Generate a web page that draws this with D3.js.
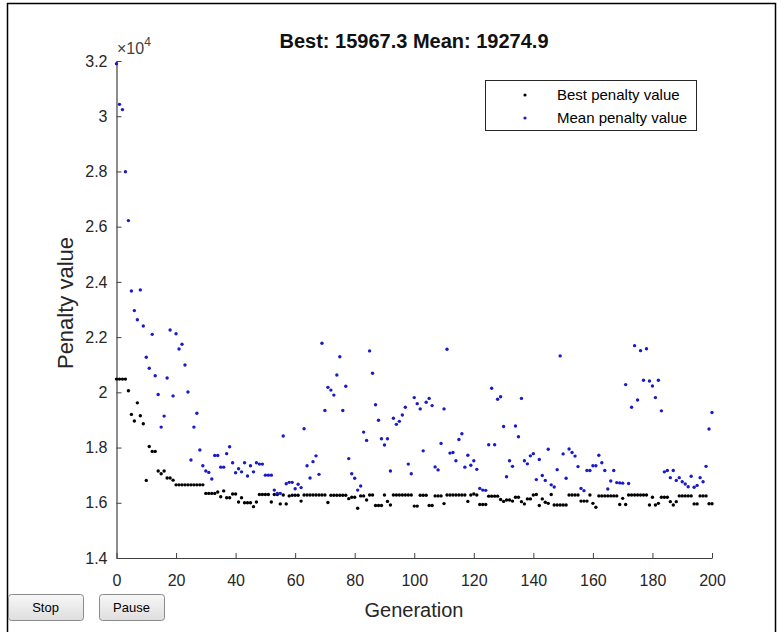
<!DOCTYPE html>
<html>
<head>
<meta charset="utf-8">
<script src="https://cdn.jsdelivr.net/npm/d3@7"></script>
<style>
  body { margin: 0; background: #fff; }
  svg { display: block; font-family: "Liberation Sans", Arial, sans-serif; }
</style>
</head>
<body>
<div id="chart"></div>
<script>
// penalty values, in units of 1e4, generation 0..200
const bestPenalty = [
  2.048, 2.048, 2.048, 2.048, 2.006, 1.920, 1.896, 1.962, 1.915, 1.886,
  1.681, 1.804, 1.786, 1.786, 1.715, 1.705, 1.715, 1.690, 1.690, 1.682,
  1.665, 1.665, 1.665, 1.665, 1.665, 1.665, 1.665, 1.665, 1.665, 1.665,
  1.634, 1.634, 1.634, 1.634, 1.639, 1.622, 1.643, 1.618, 1.618, 1.632,
  1.632, 1.603, 1.618, 1.600, 1.600, 1.600, 1.586, 1.603, 1.630, 1.630,
  1.630, 1.630, 1.603, 1.630, 1.630, 1.596, 1.628, 1.596, 1.625, 1.627,
  1.627, 1.627, 1.606, 1.628, 1.628, 1.628, 1.628, 1.628, 1.628, 1.628,
  1.628, 1.601, 1.627, 1.627, 1.627, 1.627, 1.627, 1.627, 1.615, 1.620,
  1.620, 1.580, 1.625, 1.625, 1.610, 1.628, 1.628, 1.590, 1.590, 1.590,
  1.628, 1.605, 1.592, 1.628, 1.628, 1.628, 1.628, 1.628, 1.628, 1.628,
  1.588, 1.588, 1.627, 1.627, 1.627, 1.590, 1.590, 1.625, 1.625, 1.625,
  1.597, 1.628, 1.628, 1.628, 1.628, 1.628, 1.628, 1.628, 1.605, 1.628,
  1.632, 1.628, 1.594, 1.594, 1.594, 1.624, 1.624, 1.624, 1.624, 1.612,
  1.605, 1.610, 1.610, 1.606, 1.620, 1.620, 1.604, 1.596, 1.614, 1.614,
  1.628, 1.630, 1.590, 1.614, 1.602, 1.598, 1.630, 1.592, 1.592, 1.592,
  1.592, 1.592, 1.628, 1.628, 1.628, 1.628, 1.606, 1.606, 1.606, 1.628,
  1.598, 1.584, 1.625, 1.625, 1.625, 1.625, 1.625, 1.625, 1.625, 1.594,
  1.616, 1.594, 1.628, 1.628, 1.628, 1.628, 1.628, 1.628, 1.628, 1.592,
  1.620, 1.592, 1.598, 1.620, 1.620, 1.620, 1.604, 1.592, 1.604, 1.625,
  1.625, 1.625, 1.625, 1.625, 1.596, 1.596, 1.625, 1.625, 1.625, 1.5967,
  1.5967
];

const meanPenalty = [
  3.190, 3.043, 3.024, 2.799, 2.622, 2.367, 2.296, 2.263, 2.371, 2.240,
  2.127, 2.087, 2.210, 2.060, 1.992, 1.874, 1.914, 2.052, 2.226, 1.987,
  2.212, 2.157, 2.174, 2.099, 2.001, 1.755, 1.874, 1.924, 1.791, 1.734,
  1.715, 1.710, 1.686, 1.771, 1.771, 1.729, 1.729, 1.778, 1.803, 1.745,
  1.709, 1.723, 1.712, 1.745, 1.697, 1.734, 1.712, 1.745, 1.740, 1.740,
  1.700, 1.700, 1.700, 1.646, 1.634, 1.634, 1.842, 1.669, 1.674, 1.674,
  1.651, 1.667, 1.655, 1.868, 1.734, 1.690, 1.749, 1.770, 1.703, 2.178,
  1.934, 2.018, 2.008, 1.990, 2.063, 2.129, 1.934, 2.022, 1.760, 1.705,
  1.689, 1.646, 1.661, 1.856, 1.826, 2.150, 2.069, 1.955, 1.899, 1.832,
  1.809, 1.832, 1.715, 1.906, 1.884, 1.895, 1.918, 1.946, 1.740, 1.705,
  1.981, 1.959, 1.940, 1.788, 1.964, 1.978, 1.952, 1.730, 1.719, 1.815,
  1.940, 2.156, 1.780, 1.782, 1.752, 1.829, 1.850, 1.729, 1.772, 1.736,
  1.752, 1.721, 1.652, 1.646, 1.645, 1.810, 2.015, 1.810, 1.975, 1.984,
  1.876, 1.694, 1.752, 1.732, 1.878, 1.839, 1.978, 1.752, 1.741, 1.770,
  1.778, 1.684, 1.757, 1.699, 1.681, 1.794, 1.665, 1.657, 1.720, 2.132,
  1.777, 1.689, 1.795, 1.782, 1.769, 1.731, 1.652, 1.644, 1.717, 1.717,
  1.734, 1.734, 1.772, 1.745, 1.717, 1.650, 1.679, 1.717, 1.673, 1.672,
  1.671, 2.028, 1.670, 1.946, 2.169, 1.972, 2.151, 2.044, 2.158, 2.041,
  2.023, 1.981, 2.044, 1.933, 1.712, 1.717, 1.691, 1.717, 1.681, 1.691,
  1.676, 1.668, 1.658, 1.696, 1.656, 1.663, 1.691, 1.676, 1.732, 1.867,
  1.927
];

const xTicks = [0, 20, 40, 60, 80, 100, 120, 140, 160, 180, 200];
const yTicks = [1.4, 1.6, 1.8, 2, 2.2, 2.4, 2.6, 2.8, 3, 3.2];
const seriesNames = ["Best penalty value", "Mean penalty value"];
const seriesColors = ["#000000", "#1a1ac8"];
const titleText = "Best: 15967.3 Mean: 19274.9";

const W = 782, H = 632;
const axisColor = "#404040";

const svg = d3.select("#chart").append("svg")
  .attr("width", W).attr("height", H);

// figure frame
svg.append("rect")
  .attr("x", 7.5).attr("y", 3.5).attr("width", 768).attr("height", 660)
  .attr("fill", "#fff").attr("stroke", "#000").attr("stroke-width", 1.5);

const x = d3.scaleLinear().domain([0, 200]).range([116.5, 712]);
const y = d3.scaleLinear().domain([1.4, 3.2]).range([558, 61]);

const xAxis = svg.append("g")
  .attr("transform", "translate(0,558)")
  .call(d3.axisBottom(x).tickValues(xTicks).tickSizeInner(-5).tickSizeOuter(0).tickPadding(17));
const yAxis = svg.append("g")
  .attr("transform", "translate(116.5,0)")
  .call(d3.axisLeft(y).tickValues(yTicks).tickSizeInner(-5).tickSizeOuter(0).tickPadding(9)
    .tickFormat(d => String(d)));

[xAxis, yAxis].forEach(g => {
  g.select(".domain").attr("stroke", axisColor).attr("stroke-width", 1.2);
  g.selectAll(".tick line").attr("stroke", axisColor);
  g.selectAll(".tick text")
    .attr("fill", "#262626")
    .style("font-size", "16px")
    .style("font-family", "'Liberation Sans', Arial, sans-serif");
});

// exponent label
const expo = svg.append("text")
  .attr("x", 117).attr("y", 54)
  .attr("fill", "#404040")
  .style("font-size", "16px");
expo.append("tspan").text("\u00d710");
expo.append("tspan").attr("dy", -8).style("font-size", "12px").text("4");

// data points
const series = [bestPenalty, meanPenalty];
series.forEach((vals, si) => {
  svg.append("g")
    .selectAll("circle")
    .data(vals)
    .enter()
    .append("circle")
    .attr("cx", (d, i) => x(i))
    .attr("cy", d => y(d))
    .attr("r", 1.7)
    .attr("fill", seriesColors[si]);
});

// title
svg.append("text")
  .attr("x", 414).attr("y", 48)
  .attr("text-anchor", "middle")
  .attr("fill", "#111")
  .style("font-size", "20px")
  .style("font-weight", "bold")
  .text(titleText);

// axis labels
svg.append("text")
  .attr("x", 414).attr("y", 617)
  .attr("text-anchor", "middle")
  .attr("fill", "#262626")
  .style("font-size", "20px")
  .text("Generation");

svg.append("text")
  .attr("transform", "translate(73,303) rotate(-90)")
  .attr("text-anchor", "middle")
  .attr("fill", "#262626")
  .style("font-size", "22px")
  .text("Penalty value");

// legend
const legend = svg.append("g");
legend.append("rect")
  .attr("x", 485.5).attr("y", 80.5).attr("width", 211).attr("height", 50)
  .attr("fill", "#fff").attr("stroke", "#262626").attr("stroke-width", 1);
seriesNames.forEach((name, i) => {
  legend.append("circle")
    .attr("cx", 525).attr("cy", 95 + i * 23).attr("r", 1.6)
    .attr("fill", seriesColors[i]);
  legend.append("text")
    .attr("x", 557).attr("y", 100 + i * 23)
    .attr("fill", "#000")
    .style("font-size", "15px")
    .text(name);
});

// Stop / Pause buttons
const grad = svg.append("defs").append("linearGradient")
  .attr("id", "btn").attr("x1", 0).attr("y1", 0).attr("x2", 0).attr("y2", 1);
grad.append("stop").attr("offset", "0%").attr("stop-color", "#f7f7f7");
grad.append("stop").attr("offset", "100%").attr("stop-color", "#dedede");

const buttons = [
  { label: "Stop", x0: 8, x1: 83 },
  { label: "Pause", x0: 99, x1: 164 }
];
buttons.forEach(b => {
  svg.append("rect")
    .attr("x", b.x0 + 0.5).attr("y", 594.5)
    .attr("width", b.x1 - b.x0).attr("height", 26)
    .attr("rx", 3)
    .attr("fill", "url(#btn)").attr("stroke", "#8a8a8a");
  svg.append("text")
    .attr("x", (b.x0 + b.x1) / 2).attr("y", 612)
    .attr("text-anchor", "middle")
    .attr("fill", "#000")
    .style("font-size", "13px")
    .text(b.label);
});
</script>
</body>
</html>
